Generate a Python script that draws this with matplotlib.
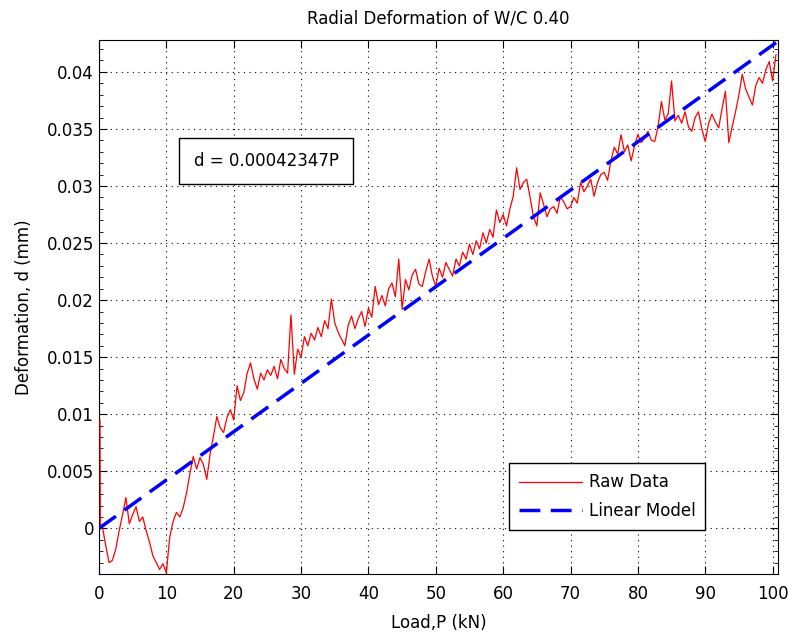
import numpy as np
import matplotlib.pyplot as plt
from matplotlib.ticker import MultipleLocator, FormatStrFormatter

plt.rcParams['font.family'] = ['DejaVu Sans']
plt.rcParams['font.size'] = 12

slope = 0.00042347  # fitted model d = slope*P

# raw load-deformation readings (kN, mm)
load = [0.15, 0.2] + list(np.arange(0.5, 100.75, 0.5))
deform = [
    0.0095, 0.0004, 0.0002,
    -0.0015, -0.0030, -0.0028, -0.0018, -0.0002, 0.0012, 0.0027, 0.0004, 0.0012, 0.0019,
    0.0006, 0.0010, -0.0002, -0.0012, -0.0024, -0.0030, -0.0036, -0.0031, -0.0039, -0.0008,
    0.0006, 0.0014, 0.0010, 0.0018, 0.0031, 0.0048, 0.0063, 0.0052, 0.0062, 0.0056,
    0.0043, 0.0065, 0.0081, 0.0098, 0.0088, 0.0084, 0.0097, 0.0104, 0.0095, 0.0125,
    0.0112, 0.0119, 0.0136, 0.0145, 0.0131, 0.0122, 0.0136, 0.0130, 0.0139, 0.0134,
    0.0142, 0.0131, 0.0148, 0.0140, 0.0136, 0.0187, 0.0135, 0.0157, 0.0150, 0.0168,
    0.0160, 0.0171, 0.0165, 0.0176, 0.0168, 0.0182, 0.0175, 0.0201, 0.0180, 0.0172,
    0.0166, 0.0160, 0.0178, 0.0186, 0.0175, 0.0184, 0.0190, 0.0177, 0.0193, 0.0185,
    0.0212, 0.0196, 0.0204, 0.0195, 0.0210, 0.0215, 0.0203, 0.0236, 0.0192, 0.0218,
    0.0209, 0.0222, 0.0227, 0.0214, 0.0212, 0.0225, 0.0236, 0.0221, 0.0212, 0.0228,
    0.0220, 0.0233, 0.0227, 0.0221, 0.0236, 0.0230, 0.0242, 0.0236, 0.0249, 0.0240,
    0.0252, 0.0245, 0.0259, 0.0250, 0.0262, 0.0255, 0.0279, 0.0268, 0.0275, 0.0265,
    0.0280, 0.0291, 0.0316, 0.0297, 0.0303, 0.0306, 0.0290, 0.0273, 0.0265, 0.0294,
    0.0284, 0.0273, 0.0280, 0.0282, 0.0276, 0.0291, 0.0286, 0.0280, 0.0282, 0.0290,
    0.0285, 0.0303, 0.0295, 0.0300, 0.0306, 0.0291, 0.0303, 0.0310, 0.0312, 0.0305,
    0.0322, 0.0334, 0.0328, 0.0345, 0.0330, 0.0336, 0.0322, 0.0335, 0.0345, 0.0338,
    0.0342, 0.0348, 0.0340, 0.0339, 0.0352, 0.0374, 0.0358, 0.0363, 0.0392, 0.0357,
    0.0362, 0.0355, 0.0365, 0.0352, 0.0348, 0.0360, 0.0365, 0.0350, 0.0339, 0.0355,
    0.0363, 0.0356, 0.0351, 0.0368, 0.0383, 0.0338, 0.0352, 0.0365, 0.0380, 0.0398,
    0.0385, 0.0378, 0.0371, 0.0388, 0.0395, 0.0390, 0.0402, 0.0409, 0.0392, 0.0415,
]
x_end = 100.8
model_x = np.array([0.0, x_end])

fig = plt.figure(figsize=(7.88, 6.32), dpi=100)
ax = fig.add_axes([0.1256, 0.0918, 0.8617, 0.845])

ax.plot(load, deform, color='#ff0000', lw=0.9, label='Raw Data', zorder=3)
ax.plot(model_x, slope * model_x, color='#0000ff', lw=2.5, ls='--', dashes=(6, 3),
        label='Linear Model', zorder=3.5)

ax.set_xlim(0, x_end)
ax.set_ylim(-0.0040, 0.0428)
ax.xaxis.set_major_locator(MultipleLocator(10))
ax.yaxis.set_major_locator(MultipleLocator(0.005))
ax.yaxis.set_minor_locator(MultipleLocator(0.001))
ax.yaxis.set_major_formatter(FormatStrFormatter('%g'))
ax.tick_params(which='both', direction='in', top=True, right=True)
ax.tick_params(which='major', length=6)
ax.tick_params(which='minor', length=3)
ax.tick_params(axis='x', pad=8)
ax.grid(True, color='black', ls=(0, (1, 4)), lw=0.8)

ax.set_title('Radial Deformation of W/C 0.40', fontsize=12, pad=12)
ax.set_xlabel('Load,P (kN)', labelpad=8)
ax.set_ylabel('Deformation, d (mm)', labelpad=10)

ax.text(0.246, 0.773, 'd = 0.00042347P', transform=ax.transAxes, va='center', ha='center',
        bbox=dict(boxstyle='square,pad=0.85', fc='white', ec='black', lw=1))

leg = ax.legend(loc='lower right', bbox_to_anchor=(0.893, 0.082), borderaxespad=0,
                fancybox=False, edgecolor='black', framealpha=1, handlelength=3.8,
                handletextpad=0.4, labelspacing=0.65, borderpad=0.6)
leg.get_frame().set_linewidth(1)
leg.set_zorder(5)

plt.savefig('out.png')
